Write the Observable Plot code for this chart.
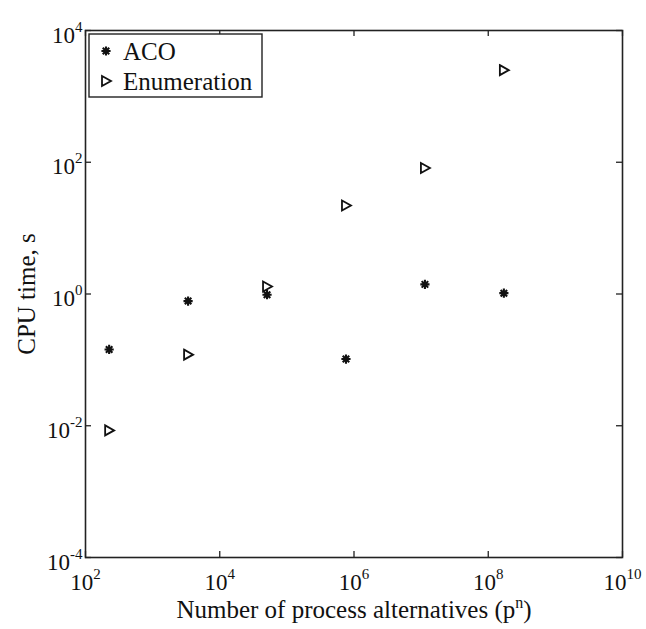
<!DOCTYPE html>
<html><head><meta charset="utf-8">
<script src="https://cdn.jsdelivr.net/npm/d3@7"></script>
<script src="https://cdn.jsdelivr.net/npm/@observablehq/plot@0.6"></script>
<style>
body{margin:0;background:#fff;}
#chart{width:646px;height:629px;}
</style></head><body><div id="chart"></div>
<script>
// ---- data ----
const alternatives = [225, 3375, 50625, 759375, 11390625, 170859375];
const acoTime = [0.144, 0.78, 0.975, 0.103, 1.4, 1.03];
const enumTime = [0.0085, 0.12, 1.3, 22, 82, 2500];
const seriesNames = ["ACO", "Enumeration"];
const xTickExps = [2, 4, 6, 8, 10];
const yTickExps = [-4, -2, 0, 2, 4];
const xTitle = "Number of process alternatives (p^n)";
const yTitle = "CPU time, s";

const FONT = "'Liberation Serif','Times New Roman',serif";
const W = 646, H = 629, ML = 85, MR = 24, MT = 30, MB = 72;
const PW = W - ML - MR, PH = H - MT - MB;

const asterisk = {draw(ctx, size) {
  const r = Math.sqrt(size / Math.PI);
  for (let k = 0; k < 4; k++) {
    const a = k * Math.PI / 4, dx = r * Math.cos(a), dy = r * Math.sin(a);
    ctx.moveTo(-dx, -dy); ctx.lineTo(dx, dy);
  }
}};
const triRight = {draw(ctx, size) {
  const r = Math.sqrt(size / Math.PI);
  ctx.moveTo(-0.8 * r, -r); ctx.lineTo(r, 0); ctx.lineTo(-0.8 * r, r); ctx.closePath();
}};

const aco = alternatives.map((x, i) => ({x, y: acoTime[i]}));
const enu = alternatives.map((x, i) => ({x, y: enumTime[i]}));
const xTicks = xTickExps.map(e => 10 ** e);
const yTicks = yTickExps.map(e => 10 ** e);

const svg = Plot.plot({
  width: W, height: H,
  marginLeft: ML, marginRight: MR, marginTop: MT, marginBottom: MB,
  style: {fontFamily: FONT, background: "white", color: "black"},
  x: {type: "log", domain: [1e2, 1e10], axis: null},
  y: {type: "log", domain: [1e-4, 1e4], axis: null},
  marks: [
    Plot.tickX(xTicks, {x: d => d, insetTop: PH - 6, stroke: "#222", strokeWidth: 1.3}),
    Plot.tickX(xTicks, {x: d => d, insetBottom: PH - 6, stroke: "#222", strokeWidth: 1.3}),
    Plot.tickY(yTicks, {y: d => d, insetRight: PW - 6, stroke: "#222", strokeWidth: 1.3}),
    Plot.tickY(yTicks, {y: d => d, insetLeft: PW - 6, stroke: "#222", strokeWidth: 1.3}),
    Plot.frame({stroke: "#222", strokeWidth: 1.6}),
    Plot.text(xTickExps, {x: d => 10 ** d, text: d => "10^" + d, frameAnchor: "bottom",
      lineAnchor: "bottom", dy: 32, textAnchor: "middle", fontSize: 23, fill: "#111"}),
    Plot.text(yTickExps, {y: d => 10 ** d, text: d => "10^" + d, frameAnchor: "left",
      lineAnchor: "bottom", dy: 12, dx: -3, textAnchor: "end", fontSize: 23, fill: "#111"}),
    Plot.text([xTitle], {text: d => d, frameAnchor: "bottom", lineAnchor: "bottom", dy: 60,
      textAnchor: "middle", fontSize: 25, fill: "#111"}),
    Plot.text([yTitle], {text: d => d, frameAnchor: "left", lineAnchor: "bottom", rotate: -90, dx: -51,
      textAnchor: "middle", fontSize: 25, fill: "#111"}),
    Plot.dot(aco, {x: "x", y: "y", symbol: asterisk, r: 4.6, stroke: "#111", strokeWidth: 2.1, fill: "none"}),
    Plot.dot(enu, {x: "x", y: "y", symbol: triRight, r: 5, stroke: "#111", strokeWidth: 1.8, fill: "none"})
  ]
});

// superscripts: turn "a^b" into a + raised tspan
const NS = "http://www.w3.org/2000/svg";
svg.querySelectorAll("text").forEach(t => {
  const s = t.textContent;
  const m = s.match(/^(.*)\^([^)]*)(.*)$/);
  if (!m) return;
  const isTitle = m[1].length > 3;
  const supSize = isTitle ? 16 : 15, shift = isTitle ? 10 : 11;
  t.textContent = m[1];
  const sup = document.createElementNS(NS, "tspan");
  sup.setAttribute("font-size", supSize);
  sup.setAttribute("dy", -shift);
  sup.textContent = m[2];
  t.appendChild(sup);
  if (m[3]) {
    const tail = document.createElementNS(NS, "tspan");
    tail.setAttribute("dy", shift);
    tail.textContent = m[3];
    t.appendChild(tail);
  }
});

// legend box
const g = d3.select(svg).append("g").attr("font-family", FONT).attr("text-anchor", "start");
g.append("rect").attr("x", 89).attr("y", 34).attr("width", 173).attr("height", 63)
  .attr("fill", "white").attr("stroke", "#222").attr("stroke-width", 1.4);
const legSyms = [{s: asterisk, r: 4.6, w: 2.1}, {s: triRight, r: 5, w: 1.8}];
seriesNames.forEach((name, i) => {
  const cy = 51 + i * 30;
  g.append("path").attr("d", d3.symbol(legSyms[i].s, Math.PI * legSyms[i].r ** 2)())
    .attr("transform", `translate(${106},${cy})`).attr("fill", "none")
    .attr("stroke", "#111").attr("stroke-width", legSyms[i].w);
  g.append("text").attr("x", 123).attr("y", cy + 9).attr("font-size", 25)
    .attr("text-anchor", "start").attr("fill", "#111").text(name);
});

document.getElementById("chart").appendChild(svg);
</script></body></html>
